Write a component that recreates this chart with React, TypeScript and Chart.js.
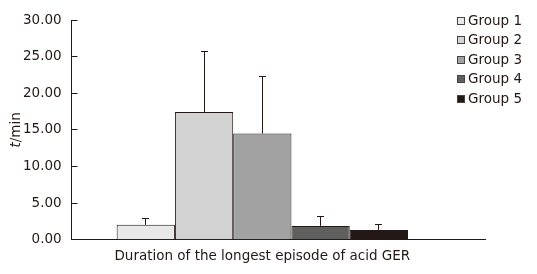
import React, { useEffect, useRef } from "react";
import { Chart, registerables } from "chart.js";

Chart.register(...registerables);

const categories = ["Duration of the longest episode of acid GER"];
const groupLabels = ["Group 1", "Group 2", "Group 3", "Group 4", "Group 5"];
const groupMeans = [2.05, 17.45, 14.5, 1.9, 1.35];
const groupSD = [0.8, 8.2, 7.75, 1.25, 0.7];
const groupColors = ["#e8e8e8", "#d2d2d2", "#a2a2a2", "#5f5f5f", "#231815"];
const yTicks = [0, 5, 10, 15, 20, 25, 30];

const FONT = "'DejaVu Sans', Verdana, sans-serif";
const TEXT = "#231815";
const FS = 13.5;

const align = (p: number) => Math.round(p - 0.5) + 0.5;

const decorPlugin = {
  id: "decor",
  afterDatasetsDraw(chart: any) {
    const ctx = chart.ctx;
    const area = chart.chartArea;
    const y = chart.scales.y;
    ctx.save();
    ctx.strokeStyle = TEXT;
    ctx.lineWidth = 1;
    // error bars
    chart.data.datasets.forEach((ds: any, i: number) => {
      const meta = chart.getDatasetMeta(i);
      meta.data.forEach((el: any, j: number) => {
        const top = align(y.getPixelForValue(ds.data[j] + ds.sd[j]));
        const x = align(el.x);
        ctx.beginPath();
        ctx.moveTo(x, el.y);
        ctx.lineTo(x, top);
        ctx.moveTo(x - 3.5, top);
        ctx.lineTo(x + 3.5, top);
        ctx.stroke();
      });
    });
    // inward y tick marks
    const lx = align(area.left);
    yTicks.forEach((v) => {
      const py = align(y.getPixelForValue(v));
      ctx.beginPath();
      ctx.moveTo(lx, py);
      ctx.lineTo(lx + 6, py);
      ctx.stroke();
    });
    // extend x axis line
    const by = align(area.bottom);
    ctx.beginPath();
    ctx.moveTo(area.right - 1, by);
    ctx.lineTo(area.right + 33, by);
    ctx.stroke();
    // y title with italic t
    ctx.translate(area.left - 55, (area.top + area.bottom) / 2);
    ctx.rotate(-Math.PI / 2);
    ctx.fillStyle = TEXT;
    ctx.textBaseline = "middle";
    const italic = `italic ${FS}px ${FONT}`;
    const normal = `${FS}px ${FONT}`;
    ctx.font = italic;
    const w1 = ctx.measureText("t").width;
    ctx.font = normal;
    const w2 = ctx.measureText("/min").width;
    const sx = -(w1 + w2) / 2;
    ctx.font = italic;
    ctx.textAlign = "left";
    ctx.fillText("t", sx, 0);
    ctx.font = normal;
    ctx.fillText("/min", sx + w1, 0);
    ctx.restore();
    // legend
    ctx.save();
    ctx.font = normal;
    ctx.textBaseline = "middle";
    ctx.textAlign = "left";
    chart.data.datasets.forEach((ds: any, i: number) => {
      const cy = area.top + 0.5 + i * 19.6;
      const bx = area.right + 4;
      ctx.fillStyle = ds.backgroundColor;
      ctx.fillRect(bx, Math.round(cy - 4), 8, 8);
      ctx.strokeStyle = "#444";
      ctx.strokeRect(bx + 0.5, Math.round(cy - 4) + 0.5, 7, 7);
      ctx.fillStyle = TEXT;
      ctx.fillText(ds.label, bx + 11, cy + 0.5);
    });
    ctx.restore();
  },
};

export default function App() {
  const ref = useRef<HTMLCanvasElement | null>(null);
  useEffect(() => {
    if (!ref.current) return;
    const chart = new Chart(ref.current, {
      type: "bar",
      data: {
        labels: categories,
        datasets: groupLabels.map((label, i) => ({
          label,
          data: [groupMeans[i]],
          sd: [groupSD[i]],
          backgroundColor: groupColors[i],
          borderColor: "#231815",
          borderWidth: 1,
          categoryPercentage: 0.764,
          barPercentage: 1,
        })) as any,
      },
      options: {
        animation: false,
        responsive: false,
        devicePixelRatio: 1,
        layout: { padding: { top: 20, right: 84, left: 13, bottom: 0 } },
        plugins: { legend: { display: false }, tooltip: { enabled: false } },
        scales: {
          x: {
            grid: { display: false, drawTicks: false },
            border: { display: true, color: TEXT, width: 1 },
            ticks: { color: TEXT, font: { family: FONT, size: FS }, padding: 9, maxRotation: 0 },
          },
          y: {
            min: 0,
            max: 30,
            grid: { drawOnChartArea: false, drawTicks: false },
            border: { display: true, color: TEXT, width: 1 },
            ticks: {
              stepSize: 5,
              color: TEXT,
              padding: 10,
              font: { family: FONT, size: FS },
              callback: (v: any) => Number(v).toFixed(2),
            },
          },
        },
      },
      plugins: [decorPlugin],
    });
    return () => chart.destroy();
  }, []);
  return (
    <div style={{ position: "absolute", left: 0, top: 0, width: 537, height: 274, background: "#fff" }}>
      <canvas ref={ref} width={537} height={274} />
    </div>
  );
}
